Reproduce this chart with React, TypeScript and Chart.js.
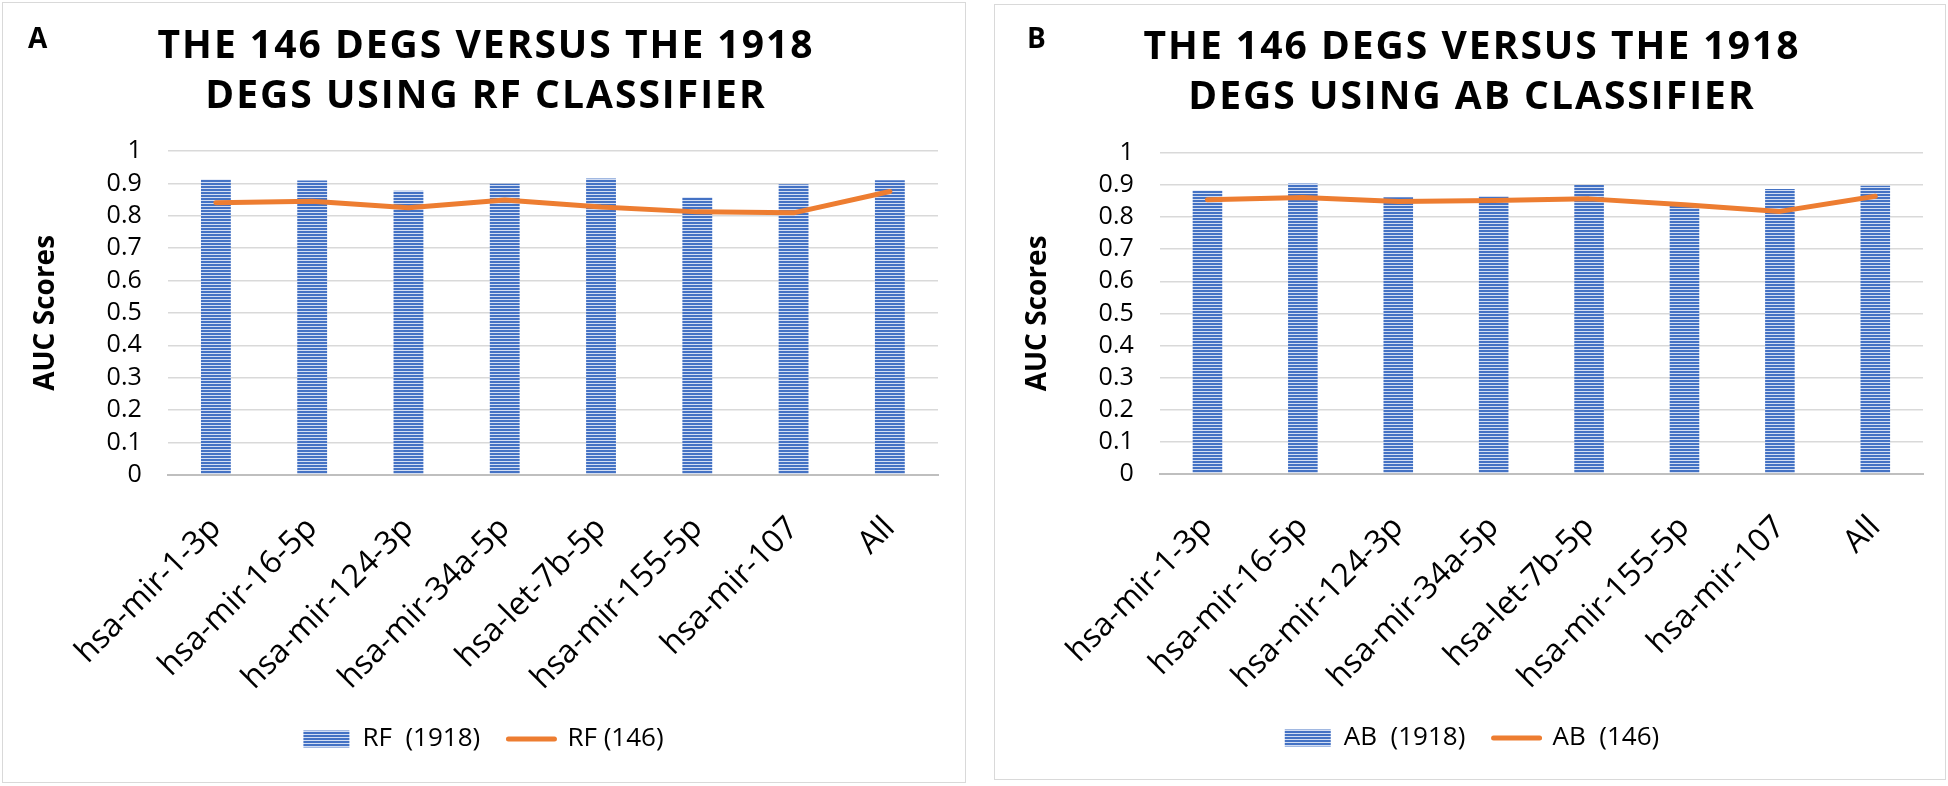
import { useEffect, useRef } from 'react';
import { Chart, registerables } from 'chart.js';

Chart.register(...registerables);

// miRNA groups on the x axis
const categories = [
    'hsa-mir-1-3p',
    'hsa-mir-16-5p',
    'hsa-mir-124-3p',
    'hsa-mir-34a-5p',
    'hsa-let-7b-5p',
    'hsa-mir-155-5p',
    'hsa-mir-107',
    'All'
];

// AUC scores
const rf1918 = [0.912, 0.909, 0.877, 0.899, 0.915, 0.857, 0.897, 0.91];
const rf146 = [0.84, 0.845, 0.825, 0.849, 0.827, 0.812, 0.809, 0.875];
const ab1918 = [0.883, 0.905, 0.862, 0.866, 0.9, 0.84, 0.888, 0.898];
const ab146 = [0.854, 0.861, 0.849, 0.852, 0.857, 0.839, 0.818, 0.865];

const titleA = ['THE 146 DEGS VERSUS THE 1918', 'DEGS USING RF CLASSIFIER'];
const titleB = ['THE 146 DEGS VERSUS THE 1918', 'DEGS USING AB CLASSIFIER'];

const ORANGE = '#ED7D31';
const FONT = '"Open Sans", sans-serif';

function stripePattern(ctx: CanvasRenderingContext2D) {
    const c = document.createElement('canvas');
    c.width = 4;
    c.height = 3;
    const g = c.getContext('2d')!;
    g.fillStyle = '#4472c4';
    g.fillRect(0, 0, 4, 3);
    g.fillStyle = '#d3def3';
    g.fillRect(0, 2, 4, 1);
    return ctx.createPattern(c, 'repeat')!;
}

// draws the panel letter and the spaced-out two line heading
const headingPlugin = {
    id: 'heading',
    afterDraw(chart: any, _args: any, opts: any) {
        const { ctx, width } = chart;
        ctx.save();
        ctx.fillStyle = '#000';
        ctx.textBaseline = 'middle';
        ctx.textAlign = 'left';
        ctx.font = `700 28px ${FONT}`;
        ctx.fillText(opts.letter, opts.letterX, opts.letterY);
        ctx.font = `700 39px ${FONT}`;
        ctx.textAlign = 'center';
        ctx.letterSpacing = '2px';
        opts.lines.forEach((line: string, i: number) => {
            ctx.fillText(line, width / 2 + 2, opts.titleY + i * 50);
        });
        ctx.restore();
    }
};

type PanelProps = {
    letter: string;
    letterX: number;
    letterY: number;
    titleY: number;
    lines: string[];
    bars: number[];
    line: number[];
    barLabel: string;
    lineLabel: string;
    padRight: number;
    padBottom: number;
};

function Panel(props: PanelProps) {
    const canvasRef = useRef<HTMLCanvasElement>(null);

    useEffect(() => {
        if (!canvasRef.current) return;
        const ctx = canvasRef.current.getContext('2d');
        if (!ctx) return;
        const pattern = stripePattern(ctx);

        const chart = new Chart(ctx, {
            type: 'bar',
            data: {
                labels: categories,
                datasets: [
                    {
                        type: 'bar',
                        label: props.barLabel,
                        data: props.bars,
                        backgroundColor: pattern,
                        borderWidth: 0,
                        barPercentage: 0.31,
                        categoryPercentage: 1,
                        order: 1
                    },
                    {
                        type: 'line',
                        label: props.lineLabel,
                        data: props.line,
                        borderColor: ORANGE,
                        backgroundColor: ORANGE,
                        borderWidth: 5,
                        pointRadius: 0,
                        tension: 0,
                        fill: false,
                        borderCapStyle: 'round',
                        borderJoinStyle: 'round',
                        order: 0
                    }
                ]
            },
            options: {
                animation: false,
                responsive: true,
                maintainAspectRatio: false,
                layout: {
                    padding: { top: 148, left: 26, right: props.padRight, bottom: props.padBottom }
                },
                plugins: {
                    legend: {
                        position: 'bottom',
                        labels: {
                            usePointStyle: true,
                            pointStyleWidth: 46,
                            boxHeight: 17,
                            color: '#000',
                            padding: 8,
                            font: { family: FONT, size: 26 },
                            generateLabels: (c: any) => {
                                const items = Chart.defaults.plugins.legend.labels.generateLabels(c);
                                return items
                                    .sort((a: any, b: any) => a.datasetIndex - b.datasetIndex)
                                    .map((it: any) =>
                                        it.datasetIndex === 0
                                            ? { ...it, text: it.text + '   ', pointStyle: 'rect', lineWidth: 0, fillStyle: pattern }
                                            : { ...it, pointStyle: 'line', lineWidth: 5, strokeStyle: ORANGE, lineCap: 'round' }
                                    );
                            }
                        }
                    },
                    tooltip: { enabled: false },
                    title: { display: false },
                    heading: {
                        letter: props.letter,
                        letterX: props.letterX,
                        letterY: props.letterY,
                        titleY: props.titleY,
                        lines: props.lines
                    }
                } as any,
                scales: {
                    x: {
                        grid: { display: false, drawTicks: false },
                        border: { color: '#bfbfbf', width: 2 },
                        ticks: {
                            color: '#000',
                            font: { family: FONT, size: 32, lineHeight: 1 },
                            minRotation: 45,
                            maxRotation: 45,
                            autoSkip: false,
                            padding: 37
                        },
                        afterFit: (scale: any) => {
                            scale.height -= 14;
                        }
                    },
                    y: {
                        min: 0,
                        max: 1,
                        grid: { color: '#d9d9d9', lineWidth: 1.5, drawTicks: false },
                        border: { display: false },
                        ticks: {
                            stepSize: 0.1,
                            autoSkip: false,
                            color: '#000',
                            padding: 26,
                            font: { family: FONT, size: 25, lineHeight: 1 },
                            callback: (v: any) => String(Math.round(Number(v) * 10) / 10)
                        },
                        title: {
                            display: true,
                            text: 'AUC Scores',
                            color: '#000',
                            font: { family: FONT, size: 28, weight: 'bold' },
                            padding: { top: 0, bottom: 18 }
                        }
                    }
                }
            },
            plugins: [headingPlugin]
        });

        return () => chart.destroy();
    }, []);

    return <canvas ref={canvasRef} />;
}

export default function App() {
    const panelBox = {
        position: 'absolute' as const,
        boxSizing: 'border-box' as const,
        border: '1.5px solid #d9d9d9',
        background: '#fff'
    };
    return (
        <div style={{ position: 'absolute', left: 0, top: 0, width: 1948, height: 786, background: '#fff' }}>
            <div style={{ ...panelBox, left: 2, top: 2, width: 964, height: 781 }}>
                <Panel
                    letter="A"
                    letterX={25}
                    letterY={37}
                    titleY={44}
                    lines={titleA}
                    bars={rf1918}
                    line={rf146}
                    barLabel="RF  (1918)"
                    lineLabel="RF (146)"
                    padRight={27}
                    padBottom={20}
                />
            </div>
            <div style={{ ...panelBox, left: 994, top: 4, width: 952, height: 776 }}>
                <Panel
                    letter="B"
                    letterX={32}
                    letterY={35}
                    titleY={43}
                    lines={titleB}
                    bars={ab1918}
                    line={ab146}
                    barLabel="AB  (1918)"
                    lineLabel="AB  (146)"
                    padRight={22}
                    padBottom={18}
                />
            </div>
        </div>
    );
}
